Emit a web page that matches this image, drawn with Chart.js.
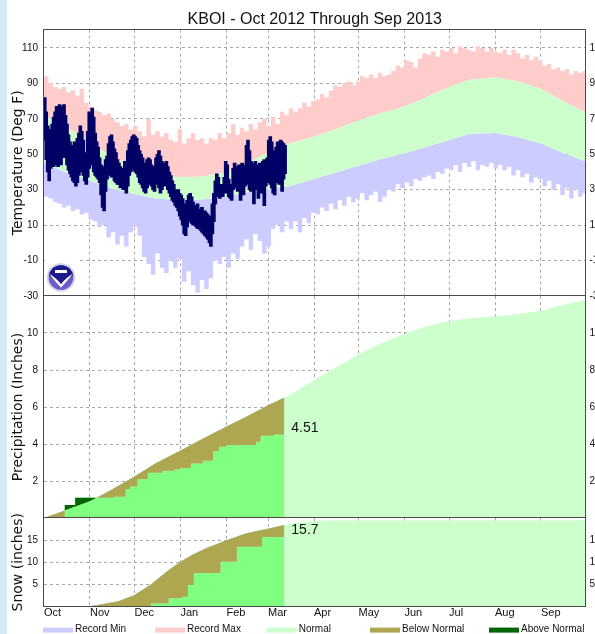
<!DOCTYPE html>
<html>
<head>
<meta charset="utf-8">
<title>KBOI - Oct 2012 Through Sep 2013</title>
<script src="https://cdn.jsdelivr.net/npm/chart.js@4.4.1/dist/chart.umd.min.js"></script>
<style>
  html, body { margin: 0; padding: 0; background: #fff; overflow: hidden; }
  #page { position: relative; width: 595px; height: 634px; }
  #stripe { position: absolute; left: 0; top: 0; width: 7px; height: 634px; background: #d6eaf3; }
  canvas { position: absolute; left: 0; }
</style>
</head>
<body>
<div id="page">
  <div id="stripe"></div>
  <canvas id="tempChart" width="595" height="304" style="top:0px"></canvas>
  <canvas id="precipChart" width="595" height="232" style="top:290px"></canvas>
  <canvas id="snowChart" width="595" height="122" style="top:512px"></canvas>
</div>
<script>
// Water year axis: day 0 = Oct 1 2012, 365 = Oct 1 2013
const yearDays = 365;
const monthDays = [0, 31, 61, 92, 123, 151, 182, 212, 243, 273, 304, 335];
const monthNames = ['Oct', 'Nov', 'Dec', 'Jan', 'Feb', 'Mar', 'Apr', 'May', 'Jun', 'Jul', 'Aug', 'Sep'];

const tempTicks = [-30, -10, 10, 30, 50, 70, 90, 110];
const precipTicks = [2, 4, 6, 8, 10];
const snowTicks = [5, 10, 15];

// Normals, on the 1st and 15th of each month
const normalDays = [0, 14, 31, 45, 61, 75, 92, 106, 123, 137, 151, 165, 182, 196, 212, 226, 243, 257, 273, 287, 304, 318, 335, 349, 365];
const normalHigh = [72, 66, 57, 49, 43, 38.5, 37, 37.5, 40, 45, 51, 56, 60, 64, 69, 73, 77, 82, 88, 92, 93.5, 91.5, 87, 80.5, 73.5];
const normalLow = [45, 40, 35, 31, 27.5, 25, 24, 24.5, 26, 28.5, 30.5, 32, 36, 39.5, 43.5, 47, 50.5, 54, 58, 61.5, 62, 60, 56, 51, 46];
const normalPrecip = [0, 0.4, 0.9, 1.5, 2.25, 2.95, 3.65, 4.25, 4.95, 5.5, 6.1, 6.62, 7.45, 8.1, 8.85, 9.4, 9.95, 10.35, 10.65, 10.8, 10.9, 11.0, 11.2, 11.5, 11.8];

// Record max / min, one value every 3 days from Oct 1
const recordStep = 3;
const recordMax = [
  94, 90, 88, 87, 88, 85, 86, 83, 87, 79,
  77, 75, 74, 72, 73, 70, 68, 66, 67, 64,
  66, 63, 60, 70, 61, 63, 60, 62, 58, 57,
  64, 56, 59, 62, 58, 59, 56, 59, 58, 62,
  59, 62, 67, 61, 65, 63, 67, 64, 68, 70,
  66, 71, 67, 74, 72, 76, 74, 76, 79, 77,
  80, 81, 84, 82, 86, 89, 88, 90, 91, 89,
  91, 94, 93, 95, 93, 96, 94, 95, 97, 100,
  99, 103, 102, 99, 104, 107, 106, 108, 105, 109,
  108, 110, 107, 111, 110, 109, 108, 111, 110, 108,
  110, 108, 107, 109, 106, 109, 107, 104, 106, 103,
  105, 103, 100, 101, 98, 99, 97, 98, 95, 97,
  96, 97
];
const recordMin = [
  26, 25, 23, 22, 20, 21, 18, 19, 16, 17,
  13, 12, 9, 10, 3, 6, -1, 4, -2, 6,
  9, 4, -8, -12, -18, -6, -14, -17, -10, -14,
  -9, -22, -16, -24, -28, -21, -26, -20, -10, -12,
  -8, -14, -6, -9, -2, 2, -4, 5, 1, -6,
  -2, 8, 10, 6, 12, 8, 12, 6, 14, 11,
  17, 16, 20, 18, 22, 19, 24, 21, 26, 23,
  25, 28, 24, 27, 29, 23, 26, 30, 29, 33,
  31, 34, 32, 36, 35, 37, 38, 36, 40, 39,
  42, 41, 44, 40, 45, 43, 46, 41, 44, 43,
  45, 42, 44, 41, 43, 38, 41, 37, 39, 34,
  37, 36, 32, 35, 30, 33, 27, 31, 25, 30,
  26, 28
];

// Observed daily high / low, Oct 1 2012 - Mar 12 2013
const obsHigh = [
  82, 74, 66, 63, 64, 67, 71, 74, 77, 76,
  78, 77, 74, 78, 72, 67, 61, 57, 55, 53,
  57, 55, 59, 62, 66, 63, 58, 51, 49, 63,
  74, 72, 76, 71, 62, 57, 54, 48, 44, 41,
  43, 47, 49, 56, 60, 61, 57, 53, 51, 47,
  45, 43, 41, 42, 46, 44, 52, 56, 58, 60,
  61, 60, 59, 55, 52, 50, 48, 45, 43, 47,
  48, 47, 44, 41, 43, 48, 50, 52, 49, 46,
  45, 44, 46, 43, 40, 38, 35, 33, 30, 29,
  30, 28, 27, 25, 22, 21, 24, 27, 28, 26,
  23, 21, 20, 22, 19, 18, 20, 17, 18, 17,
  16, 15, 14, 22, 28, 35, 39, 37, 33, 31,
  33, 37, 46, 44, 36, 33, 32, 42, 45, 43,
  42, 44, 41, 45, 42, 44, 55, 58, 52, 46,
  45, 43, 46, 44, 41, 45, 43, 46, 47, 44,
  48, 58, 60, 57, 52, 49, 54, 57, 56, 58, 57, 56, 55
];
const obsLow = [
  58, 47, 40, 35, 42, 45, 43, 44, 47, 43,
  45, 44, 48, 51, 48, 44, 41, 39, 37, 35,
  34, 32, 34, 38, 40, 42, 38, 35, 33, 37,
  42, 45, 44, 40, 38, 37, 36, 34, 27, 20,
  18, 29, 36, 40, 38, 37, 38, 35, 34, 33,
  33, 31, 32, 30, 33, 28, 32, 38, 40, 41,
  42, 40, 39, 37, 34, 33, 31, 29, 28, 31,
  33, 34, 32, 30, 29, 33, 34, 31, 28, 30,
  33, 32, 34, 30, 28, 26, 24, 23, 21, 20,
  18, 15, 13, 10, 5, 4, 9, 12, 13, 11,
  10, 12, 9, 8, 10, 7, 6, 5, 4, 3,
  2, 0, -2, 5, 12, 22, 28, 26, 25, 26,
  26, 28, 30, 28, 26, 25, 24, 30, 33, 31,
  29, 32, 24, 31, 27, 32, 33, 34, 30, 29,
  31, 22, 32, 30, 25, 33, 28, 31, 21, 32,
  34, 35, 33, 31, 28, 27, 34, 37, 33, 38, 29, 36, 39
];

// Cumulative precipitation (day it changed, running total)
const precipObsDays = [0, 14, 21, 47, 55, 58, 63, 70, 80, 88, 92, 99, 107, 114, 118, 123, 143, 146, 155, 162];
const precipObs = [0, 0.70, 1.10, 1.15, 1.55, 1.70, 2.10, 2.45, 2.55, 2.62, 2.70, 2.95, 3.10, 3.62, 3.85, 3.95, 4.12, 4.45, 4.51, 4.51];

// Cumulative snowfall
const snowNormDays = [0, 23, 31, 40, 50, 61, 72, 83, 92, 100, 110, 123, 137, 151, 162, 170, 182, 196, 365];
const snowNorm = [0, 0, 0.1, 0.6, 1.2, 2.6, 5.0, 8.0, 10.1, 11.7, 13.3, 15.0, 16.6, 17.6, 18.4, 18.9, 19.3, 19.5, 19.5];
const snowObsDays = [0, 72, 84, 93, 97, 101, 119, 130, 147, 162];
const snowObs = [0, 0.7, 1.9, 2.2, 4.9, 7.6, 10.1, 13.5, 15.7, 15.7];

const precipTotal = '4.51';
const snowTotal = '15.7';
const legendLabels = ['Record Min', 'Record Max', 'Normal', 'Below Normal', 'Above Normal'];

const colors = {
    recMin: '#ccccff',
    recMax: '#ffcccc',
    normal: '#ccffcc',
    below: '#aea650',
    above: '#006400',
    observed: '#80ff80',
    temp: '#000066',
    grid: '#a8a8a8',
    frame: '#4a4a4a',
    text: '#111111'
};
const legendColors = [colors.recMin, colors.recMax, colors.normal, colors.below, colors.above];

const chartFont = 'Liberation Sans';
Chart.defaults.font.family = chartFont;
Chart.defaults.color = colors.text;

const transparent = 'rgba(0,0,0,0)';
const pts = (xs, ys) => xs.map((x, i) => ({ x: x, y: ys[i] }));

// record series are step values: hold each value for recordStep days
function recordPoints(values) {
    const p = values.map((v, i) => ({ x: i * recordStep, y: v }));
    p.push({ x: yearDays, y: values[values.length - 1] });
    return p;
}

// keep the plot area exactly where the panels meet
function noScalePadding(s) {
    s.paddingTop = 0;
    s.paddingBottom = 0;
    s.paddingLeft = 0;
    s.paddingRight = 0;
}

/**
 * Shared x axis: month starts, labels only on the bottom panel
 */
function monthAxis(showLabels, height) {
    return {
        type: 'linear',
        min: 0,
        max: yearDays,
        offset: false,
        z: 1,
        afterBuildTicks: s => { s.ticks = monthDays.map(v => ({ value: v })); },
        afterFit: s => { s.height = height; noScalePadding(s); },
        grid: {
            color: c => (c.tick && c.tick.value === 0) ? transparent : colors.grid,
            drawTicks: false,
            offset: false
        },
        border: { display: false, dash: [3, 3] },
        ticks: {
            display: showLabels,
            autoSkip: false,
            maxRotation: 0,
            align: 'start',
            padding: 0,
            font: { family: chartFont, size: 11 },
            color: colors.text,
            callback: (v, i) => monthNames[i]
        }
    };
}

/**
 * Left and right value axes with the same ticks
 */
function valueAxes(ticks, min, max) {
    const setTicks = s => { s.ticks = ticks.map(v => ({ value: v })); };
    const tickFont = { family: chartFont, size: 10 };
    return {
        y: {
            type: 'linear',
            position: 'left',
            min: min,
            max: max,
            z: 1,
            afterBuildTicks: setTicks,
            afterFit: s => { s.width = 44; noScalePadding(s); },
            grid: {
                color: c => (c.tick && c.tick.value === min) ? transparent : colors.grid,
                drawTicks: false
            },
            border: { display: false, dash: [3, 3] },
            ticks: { font: tickFont, color: colors.text, padding: 6 }
        },
        y2: {
            type: 'linear',
            position: 'right',
            min: min,
            max: max,
            z: 1,
            afterBuildTicks: setTicks,
            afterFit: s => { s.width = 9.5; noScalePadding(s); },
            grid: { display: false, drawTicks: false },
            border: { display: false },
            ticks: { font: tickFont, color: colors.text, padding: 4 }
        }
    };
}

// Plot frame around each panel
const framePlugin = {
    id: 'frame',
    afterDraw(chart) {
        const { ctx, chartArea: a } = chart;
        ctx.save();
        ctx.strokeStyle = colors.frame;
        ctx.lineWidth = 1;
        const l = Math.round(a.left) - 0.5, t = Math.round(a.top) - 0.5;
        const r = Math.round(a.right) - 0.5, b = Math.round(a.bottom) - 0.5;
        ctx.strokeRect(l, t, r - l, b - t);
        ctx.restore();
    }
};

// Rotated axis title (may run past the panel, like the snow one)
const axisTitlePlugin = {
    id: 'axisTitle',
    afterDraw(chart, args, opts) {
        if (!opts.text) return;
        const { ctx, chartArea: a } = chart;
        ctx.save();
        ctx.translate(18.5, (a.top + a.bottom) / 2);
        ctx.rotate(-Math.PI / 2);
        ctx.font = '14px "DejaVu Sans"';
        ctx.fillStyle = colors.text;
        ctx.textAlign = 'center';
        ctx.textBaseline = 'middle';
        ctx.fillText(opts.text, 0, 0);
        ctx.restore();
    }
};

// Season total written after the last observed day
const totalLabelPlugin = {
    id: 'totalLabel',
    afterDraw(chart, args, opts) {
        if (!opts.text) return;
        const { ctx, scales } = chart;
        ctx.save();
        ctx.font = '14px "' + chartFont + '"';
        ctx.fillStyle = colors.text;
        ctx.textBaseline = 'alphabetic';
        ctx.fillText(opts.text, scales.x.getPixelForValue(opts.day) + 7, scales.y.getPixelForValue(opts.value) - 3);
        ctx.restore();
    }
};

// NOAA emblem in the lower left corner of the temperature panel
const logoPlugin = {
    id: 'noaaLogo',
    afterDraw(chart) {
        const { ctx, chartArea: a } = chart;
        const cx = a.left + 17, cy = a.bottom - 18.5;
        ctx.save();
        ctx.fillStyle = '#ffffff';
        ctx.fillRect(a.left + 1, a.bottom - 38, 32, 37);
        ctx.beginPath();
        ctx.arc(cx, cy, 14.2, 0, Math.PI * 2);
        ctx.fillStyle = '#d4d1ee';
        ctx.fill();
        ctx.beginPath();
        ctx.arc(cx, cy, 12.3, 0, Math.PI * 2);
        ctx.fillStyle = '#6a5bc9';
        ctx.fill();
        ctx.clip();
        ctx.fillStyle = '#1d1a8c';
        ctx.beginPath();
        ctx.moveTo(cx - 14, cy - 14);
        ctx.lineTo(cx + 14, cy - 14);
        ctx.lineTo(cx + 14, cy - 3);
        ctx.quadraticCurveTo(cx + 4, cy + 2, cx, cy + 6);
        ctx.quadraticCurveTo(cx - 4, cy + 2, cx - 14, cy - 3);
        ctx.closePath();
        ctx.fill();
        ctx.fillStyle = '#ffffff';
        ctx.beginPath();
        ctx.moveTo(cx - 12, cy - 4);
        ctx.quadraticCurveTo(cx - 4, cy + 1, cx, cy + 7);
        ctx.quadraticCurveTo(cx + 4, cy + 1, cx + 12, cy - 4);
        ctx.quadraticCurveTo(cx + 5, cy + 5, cx, cy + 10);
        ctx.quadraticCurveTo(cx - 5, cy + 5, cx - 12, cy - 4);
        ctx.closePath();
        ctx.fill();
        ctx.fillRect(cx - 6, cy - 7.5, 12, 3);
        ctx.restore();
    }
};

// Legend strip under the month labels
const legendPlugin = {
    id: 'bottomLegend',
    afterDraw(chart) {
        const { ctx, chartArea: a } = chart;
        const offsets = [-1, 111, 222.7, 326, 445];
        ctx.save();
        ctx.font = '10px "' + chartFont + '"';
        ctx.textBaseline = 'alphabetic';
        legendLabels.forEach((label, i) => {
            const x = a.left + offsets[i];
            ctx.fillStyle = legendColors[i];
            ctx.fillRect(x, a.bottom + 21, 30, 5);
            ctx.fillStyle = colors.text;
            ctx.fillText(label, x + 32, a.bottom + 25.7);
        });
        ctx.restore();
    }
};

const baseOptions = {
    responsive: false,
    animation: false,
    devicePixelRatio: 1,
    events: [],
    elements: { point: { radius: 0 }, line: { borderWidth: 0, tension: 0 } }
};

// ---- Temperature panel ----
new Chart(document.getElementById('tempChart'), {
    type: 'line',
    data: {
        datasets: [
            {
                type: 'bar',
                data: obsHigh.map((h, i) => ({ x: i + 0.5, y: [obsLow[i], h] })),
                backgroundColor: colors.temp,
                borderWidth: 0,
                barThickness: 3,
                grouped: false
            },
            {
                data: recordPoints(recordMax),
                stepped: true,
                fill: { target: 2 },
                backgroundColor: colors.recMax,
                borderColor: transparent
            },
            {
                data: pts(normalDays, normalHigh),
                fill: { target: 3 },
                backgroundColor: colors.normal,
                borderColor: transparent
            },
            {
                data: pts(normalDays, normalLow),
                fill: { target: 4 },
                backgroundColor: colors.recMin,
                borderColor: transparent
            },
            {
                data: recordPoints(recordMin),
                stepped: true,
                fill: false,
                borderColor: transparent
            }
        ]
    },
    options: {
        ...baseOptions,
        layout: { padding: { top: 0, bottom: 8, left: 0, right: 0 } },
        scales: { x: monthAxis(false, 0), ...valueAxes(tempTicks, -30, 120.4) },
        plugins: {
            legend: { display: false },
            tooltip: { enabled: false },
            title: {
                display: true,
                text: 'KBOI - Oct 2012 Through Sep 2013',
                fullSize: false,
                font: { family: chartFont, size: 16, weight: 'normal' },
                color: colors.text,
                padding: { top: 9.5, bottom: 0.8 }
            },
            axisTitle: { text: 'Temperature (Deg F)' }
        }
    },
    plugins: [logoPlugin, axisTitlePlugin, framePlugin]
});

// ---- Precipitation panel ----
const precipObsPts = pts(precipObsDays, precipObs);
new Chart(document.getElementById('precipChart'), {
    type: 'line',
    data: {
        datasets: [
            {
                data: precipObsPts,
                stepped: true,
                fill: { target: 2, above: colors.above, below: colors.below },
                borderColor: transparent
            },
            {
                data: precipObsPts,
                stepped: true,
                fill: 'origin',
                backgroundColor: colors.observed,
                borderColor: transparent
            },
            {
                data: pts(normalDays, normalPrecip),
                fill: 'origin',
                backgroundColor: colors.normal,
                borderColor: transparent
            }
        ]
    },
    options: {
        ...baseOptions,
        layout: { padding: { top: 6, bottom: 4, left: 0, right: 0 } },
        scales: { x: monthAxis(false, 0), ...valueAxes(precipTicks, 0, 12) },
        plugins: {
            legend: { display: false },
            tooltip: { enabled: false },
            axisTitle: { text: 'Precipitation (Inches)' },
            totalLabel: { text: precipTotal, day: precipObsDays[precipObsDays.length - 1], value: Number(precipTotal) }
        }
    },
    plugins: [axisTitlePlugin, totalLabelPlugin, framePlugin]
});

// ---- Snowfall panel ----
const snowObsPts = pts(snowObsDays, snowObs);
new Chart(document.getElementById('snowChart'), {
    type: 'line',
    data: {
        datasets: [
            {
                data: snowObsPts,
                stepped: true,
                fill: { target: 2, above: colors.above, below: colors.below },
                borderColor: transparent
            },
            {
                data: snowObsPts,
                stepped: true,
                fill: 'origin',
                backgroundColor: colors.observed,
                borderColor: transparent
            },
            {
                data: pts(snowNormDays, snowNorm),
                fill: 'origin',
                backgroundColor: colors.normal,
                borderColor: transparent
            }
        ]
    },
    options: {
        ...baseOptions,
        layout: { padding: { top: 6, bottom: 0, left: 0, right: 0 } },
        scales: { x: monthAxis(true, 27.4), ...valueAxes(snowTicks, 0, 20) },
        plugins: {
            legend: { display: false },
            tooltip: { enabled: false },
            axisTitle: { text: 'Snow (inches)' },
            totalLabel: { text: snowTotal, day: snowObsDays[snowObsDays.length - 1], value: Number(snowTotal) }
        }
    },
    plugins: [axisTitlePlugin, totalLabelPlugin, legendPlugin, framePlugin]
});
</script>
</body>
</html>
